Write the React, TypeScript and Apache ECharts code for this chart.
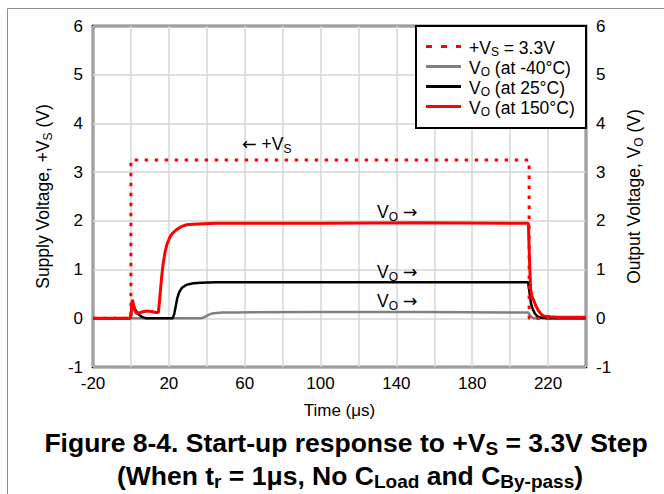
import React, { useEffect, useRef } from "react";
import * as echarts from "echarts";

const vsX = [-20, 0, 0, 210, 210, 240];
const vsY = [0, 0, 3.25, 3.25, 0, 0];

const hotX = [-20, -0.5, 0, 0.7, 1.3, 2, 3, 5, 8, 11, 13, 14.5, 15.3, 16.2, 17, 18, 19, 20.6, 22, 24.1, 26.5, 29.4, 33, 38, 45, 60, 100, 150, 200, 209.6, 210.2, 210.8, 211.5, 212.5, 213.5, 215, 216.5, 218, 221, 225, 240];
const hotY = [0, 0, 0.05, 0.38, 0.3, 0.16, 0.1, 0.12, 0.15, 0.14, 0.12, 0.12, 0.45, 0.85, 1.12, 1.36, 1.52, 1.67, 1.75, 1.82, 1.88, 1.92, 1.93, 1.94, 1.95, 1.95, 1.95, 1.96, 1.95, 1.95, 1.2, 0.6, 0.45, 0.36, 0.26, 0.15, 0.08, 0.04, 0.03, 0.02, 0.02];

const roomX = [-20, -0.3, 0.3, 1, 2, 3.5, 5, 6.5, 8, 22, 22.8, 23.5, 24.5, 25.5, 26.8, 28.5, 30.5, 33, 37, 45, 100, 150, 209.5, 210.3, 211, 212, 213, 214, 215.5, 217, 220, 240];
const roomY = [0, 0, 0.2, 0.3, 0.2, 0.1, 0.05, 0.02, 0, 0, 0.08, 0.22, 0.42, 0.54, 0.62, 0.67, 0.7, 0.72, 0.73, 0.74, 0.74, 0.74, 0.74, 0.5, 0.3, 0.18, 0.1, 0.05, 0.02, 0.01, 0, 0];

const coldX = [-20, 37, 38.5, 40, 41.5, 43, 45, 48, 55, 100, 150, 200, 209.5, 210.5, 211.5, 212.5, 240];
const coldY = [0, 0, 0.02, 0.05, 0.08, 0.1, 0.11, 0.12, 0.12, 0.13, 0.13, 0.12, 0.12, 0.06, 0.02, 0, 0];

const xTickLabels = [-20, 20, 60, 100, 140, 180, 220];
const yTicks = [-1, 0, 1, 2, 3, 4, 5, 6];

const pairs = (xs: number[], ys: number[]) => xs.map((x, i) => [x, ys[i]]);

const FONT = "'Liberation Sans', Arial, sans-serif";
const ARROW_FONT = "'DejaVu Sans', sans-serif";
const baseRich = (size: number, bold = false, lh = size + 4) => ({
  n: { fontSize: size, fontFamily: FONT, fontWeight: bold ? "bold" : "normal", color: "#000", lineHeight: lh, verticalAlign: "middle" },
  a: { fontSize: size, fontFamily: ARROW_FONT, color: "#000", lineHeight: lh, verticalAlign: "middle" },
  sub: { fontSize: Math.round(size * 0.7), fontFamily: FONT, fontWeight: bold ? "bold" : "normal", color: "#000", lineHeight: Math.round(size * 0.7), verticalAlign: "bottom" },
});

export default function App() {
  const ref = useRef<HTMLDivElement>(null);
  useEffect(() => {
    if (!ref.current) return;
    const chart = echarts.init(ref.current, null, { renderer: "svg" });
    const txt = (x: number, y: number, text: string, size: number, bold = false, align = "left", lh?: number) => ({
      type: "text",
      x,
      y,
      z: 100,
      style: { text, rich: baseRich(size, bold, lh ?? size + 4), align, verticalAlign: "middle", fill: "#000" },
    });
    const legendRows = [
      { label: "{n|+V}{sub|S}{n| = 3.3V}", color: "#ff0000", dash: [6, 9] },
      { label: "{n|V}{sub|O}{n| (at -40°C)}", color: "#808080", dash: null },
      { label: "{n|V}{sub|O}{n| (at 25°C)}", color: "#000000", dash: null },
      { label: "{n|V}{sub|O}{n| (at 150°C)}", color: "#ff0000", dash: null },
    ];
    const legendEls: any[] = [
      { type: "rect", shape: { x: 416, y: 26, width: 170, height: 102 }, z: 90, style: { fill: "#fff", stroke: "#000", lineWidth: 2 } },
    ];
    legendRows.forEach((r, i) => {
      const y = 46.5 + i * 20;
      legendEls.push({
        type: "line",
        z: 95,
        shape: { x1: 426, y1: y, x2: 461, y2: y },
        style: { stroke: r.color, lineWidth: 3, lineDash: r.dash || undefined },
      });
      legendEls.push(txt(469, y + 1.5, r.label, 17.5, false, "left", 19.5));
    });

    chart.setOption({
      animation: false,
      grid: { left: 93, top: 26, right: 78, bottom: 127, show: true, borderColor: "#000", borderWidth: 2.5, backgroundColor: "transparent" },
      xAxis: {
        type: "value",
        min: -20,
        max: 240,
        interval: 20,
        name: "Time (μs)",
        nameLocation: "middle",
        nameGap: 35,
        nameTextStyle: { fontSize: 17, fontFamily: FONT, color: "#000" },
        axisLine: { show: false },
        axisTick: { show: false },
        splitLine: { show: true, lineStyle: { color: "#d6d6d6", width: 1.5 } },
        axisLabel: {
          fontSize: 17,
          fontFamily: FONT,
          color: "#000",
          margin: 8,
          showMaxLabel: true,
          formatter: (v: number) => (xTickLabels.includes(v) ? String(v) : ""),
        },
      },
      yAxis: [
        {
          type: "value",
          min: -1,
          max: 6,
          interval: 1,
          position: "left",
          name: "{n|Supply Voltage, +V}{sub|S}{n| (V)}",
          nameLocation: "middle",
          nameGap: 39,
          nameRotate: 90,
          nameTextStyle: { rich: baseRich(17.5) },
          axisLine: { show: false },
          axisTick: { show: false },
          splitLine: { show: true, lineStyle: { color: "#d6d6d6", width: 1.5 } },
          axisLabel: { fontSize: 17, fontFamily: FONT, color: "#000", margin: 10, formatter: (v: number) => (yTicks.includes(v) ? String(v) : "") },
        },
        {
          type: "value",
          min: -1,
          max: 6,
          interval: 1,
          position: "right",
          name: "{n|Output Voltage, V}{sub|O}{n| (V)}",
          nameLocation: "middle",
          nameGap: 37.5,
          nameRotate: 90,
          nameTextStyle: { rich: baseRich(17.5) },
          axisLine: { show: false },
          axisTick: { show: false },
          splitLine: { show: false },
          axisLabel: { fontSize: 17, fontFamily: FONT, color: "#000", margin: 10, formatter: (v: number) => (yTicks.includes(v) ? String(v) : "") },
        },
      ],
      series: [
        { type: "line", name: "cold", data: pairs(coldX, coldY), showSymbol: false, symbol: "none", lineStyle: { color: "#808080", width: 2.5 }, z: 2 },
        { type: "line", name: "room", data: pairs(roomX, roomY), showSymbol: false, symbol: "none", lineStyle: { color: "#000", width: 2.5 }, z: 3 },
        { type: "line", name: "hot", data: pairs(hotX, hotY), showSymbol: false, symbol: "none", lineStyle: { color: "#ff0000", width: 3 }, z: 4 },
        { type: "line", name: "vs", data: pairs(vsX, vsY), showSymbol: false, symbol: "none", lineStyle: { color: "#ff0000", width: 3, type: [3.5, 6.5] }, z: 5 },
      ],
      graphic: [
        { type: "rect", shape: { x: 7.5, y: 8.5, width: 700, height: 600 }, z: 0, silent: true, style: { fill: "none", stroke: "#8c8c8c", lineWidth: 1 } },
        ...legendEls,
        txt(242, 144, "{a|←}{n| +V}{sub|S}", 17.5),
        txt(377, 212, "{n|V}{sub|O}{n| }{a|→}", 17.5),
        txt(377, 272, "{n|V}{sub|O}{n| }{a|→}", 17.5),
        txt(377, 301, "{n|V}{sub|O}{n| }{a|→}", 17.5),
        txt(346, 443, "{n|Figure 8-4. Start-up response to +V}{sub|S}{n| = 3.3V Step}", 26.5, true, "center"),
        txt(350, 476, "{n|(When t}{sub|r}{n| = 1μs, No C}{sub|Load}{n| and C}{sub|By-pass}{n|)}", 26.5, true, "center"),
      ],
    });
    return () => chart.dispose();
  }, []);
  return <div ref={ref} style={{ position: "absolute", left: 0, top: 0, width: 664, height: 494, background: "#fff" }} />;
}
